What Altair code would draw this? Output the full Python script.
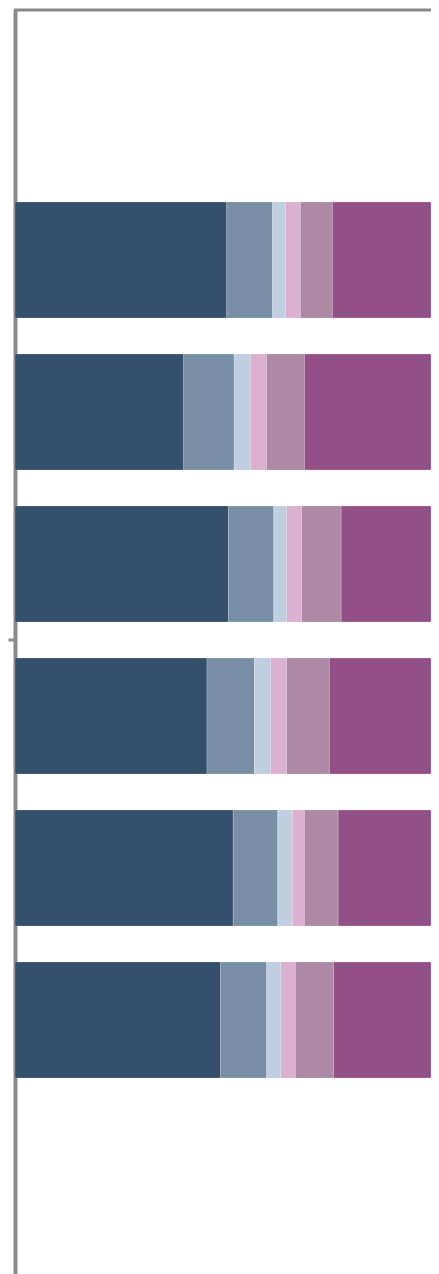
import altair as alt
import pandas as pd

bars = ["1", "2", "3", "4", "5", "6"]
segments = ["s1", "s2", "s3", "s4", "s5", "s6"]
colors = ["#34506a", "#778ea4", "#bfcfe1", "#dbb0d0", "#ae89a5", "#935086"]

seg1 = [50.9, 40.5, 51.3, 46.1, 52.4, 49.4]
seg2 = [11.0, 12.1, 10.9, 11.4, 10.7, 11.1]
seg3 = [3.1, 3.9, 3.1, 3.9, 3.5, 3.4]
seg4 = [3.6, 3.9, 3.6, 3.8, 2.9, 3.5]
seg5 = [7.7, 9.1, 9.5, 10.3, 8.1, 9.2]
seg6 = [23.7, 30.4, 21.6, 24.4, 22.3, 23.4]
series = [seg1, seg2, seg3, seg4, seg5, seg6]

rows = []
for si, (seg, vals) in enumerate(zip(segments, series)):
    for b, v in zip(bars, vals):
        rows.append({"group": "all", "bar": b, "segment": seg, "value": v, "order": si})
df = pd.DataFrame(rows)

axis_gray = "#8a8a8a"

chart = (
    alt.Chart(df)
    .mark_bar(stroke="white", strokeWidth=0.5, strokeOpacity=0.35)
    .encode(
        y=alt.Y(
            "group:N",
            title=None,
            scale=alt.Scale(paddingInner=0, paddingOuter=0.20724, align=0.4616),
            axis=alt.Axis(
                orient="left",
                labels=False,
                grid=False,
                domainColor=axis_gray,
                domainWidth=4,
                tickColor=axis_gray,
                tickWidth=3,
                tickSize=7,
            ),
        ),
        yOffset=alt.YOffset(
            "bar:N", sort=bars, scale=alt.Scale(paddingInner=0.2368, paddingOuter=0.1184)
        ),
        x=alt.X(
            "value:Q",
            stack="normalize",
            title=None,
            scale=alt.Scale(domain=[0, 1], nice=False),
            axis=alt.Axis(
                orient="top",
                labels=False,
                ticks=False,
                grid=False,
                domainColor=axis_gray,
                domainWidth=3,
                domainCap="square",
            ),
        ),
        color=alt.Color(
            "segment:N", scale=alt.Scale(domain=segments, range=colors), legend=None
        ),
        order=alt.Order("order:Q"),
    )
    .properties(
        width=416,
        height=1290,
        padding={"left": 7, "top": 1.5, "right": 0, "bottom": 0},
        autosize=alt.AutoSizeParams(type="none"),
    )
    .configure_view(stroke=None)
)

chart.save("out.html", embed_options={"renderer": "svg", "actions": False})
